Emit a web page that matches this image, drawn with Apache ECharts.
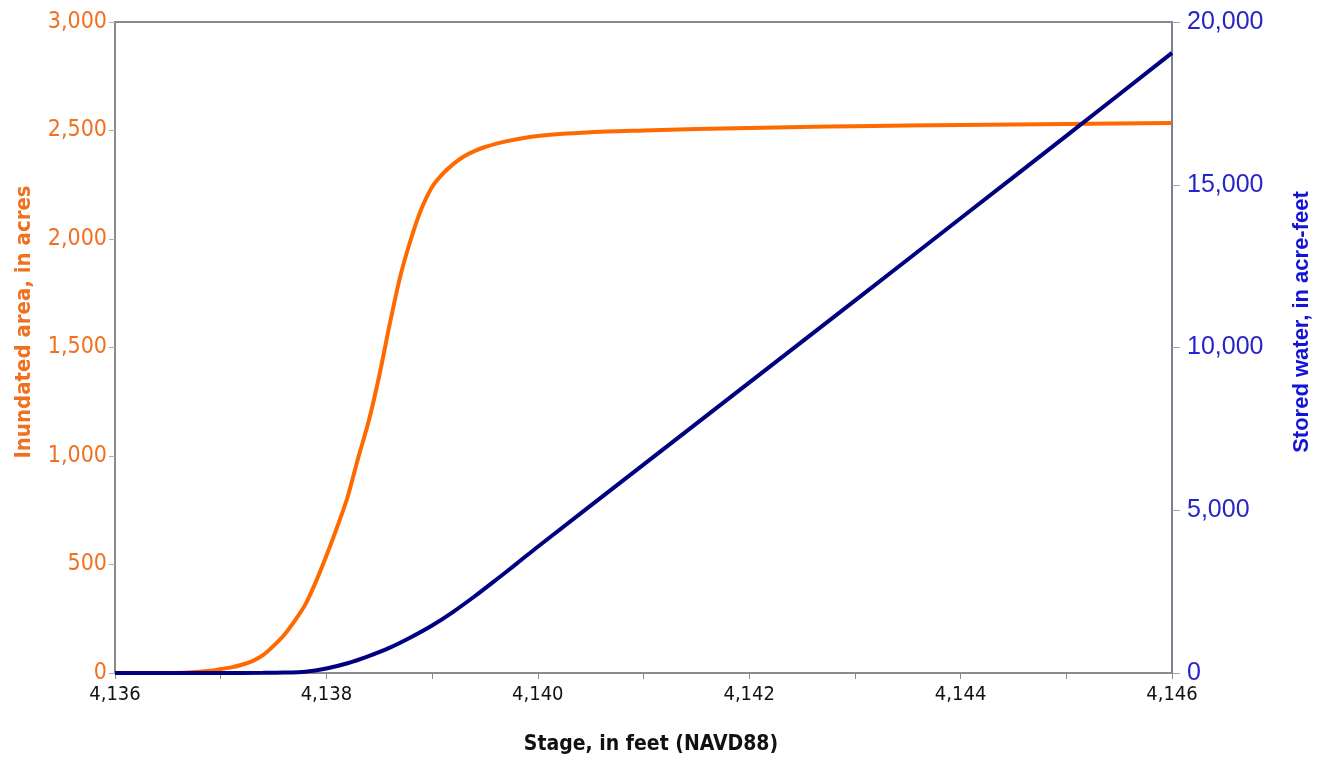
<!DOCTYPE html>
<html>
<head>
<meta charset="utf-8">
<script src="https://cdn.jsdelivr.net/npm/echarts@6/dist/echarts.min.js"></script>
<style>
  html, body { margin: 0; padding: 0; background: #fff; }
  #chart { width: 1325px; height: 759px; }
</style>
</head>
<body>
<div id="chart"></div>
<script>
// stage (feet, NAVD88) vs inundated area (acres)
const areaStage = [4136.0, 4136.5, 4136.7, 4136.9, 4137.0, 4137.1, 4137.2, 4137.3, 4137.4, 4137.5,
  4137.6, 4137.7, 4137.8, 4137.9, 4138.0, 4138.1, 4138.2, 4138.3, 4138.4, 4138.5,
  4138.6, 4138.7, 4138.8, 4138.9, 4139.0, 4139.1, 4139.2, 4139.3, 4139.4, 4139.5,
  4139.7, 4140.0, 4140.5, 4141.0, 4141.5, 4142.0, 4142.5, 4143.0, 4144.0, 4145.0, 4146.0];
const areaAcres = [0, 0, 2, 10, 18, 26, 38, 55, 82, 125,
  175, 240, 315, 420, 540, 670, 810, 990, 1160, 1370,
  1610, 1830, 2000, 2140, 2240, 2300, 2345, 2380, 2405, 2424,
  2450, 2475, 2492, 2500, 2507, 2512, 2516, 2520, 2525, 2530, 2535];

// stage vs stored water (acre-feet)
const storStage = [4136.0, 4137.0, 4137.4, 4137.6, 4137.8, 4138.0, 4138.2, 4138.4, 4138.6, 4138.8,
  4139.0, 4139.2, 4139.4, 4139.6, 4139.8, 4140.0, 4141.0, 4142.0, 4143.0, 4144.0, 4145.0, 4146.0];
const storAcreFt = [0, 0, 4, 12, 40, 140, 300, 520, 780, 1100,
  1460, 1880, 2350, 2850, 3360, 3880, 6400, 8920, 11440, 13970, 16500, 19050];

const xTicks = [4136, 4138, 4140, 4142, 4144, 4146];

const narrow = "'Liberation Sans Narrow', 'DejaVu Sans Condensed', sans-serif";
const arial = "'Liberation Sans', Arial, sans-serif";
const fmt = v => Number(v).toLocaleString('en-US');

const chart = echarts.init(document.getElementById('chart'), null, { renderer: 'canvas' });

const option = {
  backgroundColor: '#fff',
  animation: false,
  grid: {
    left: 115, right: 153, top: 22, bottom: 86,
    show: true, borderColor: '#8a8a8a', borderWidth: 2, backgroundColor: 'transparent'
  },
  xAxis: {
    type: 'value',
    min: 4136, max: 4146, interval: 1,
    axisLine: { lineStyle: { color: '#8a8a8a', width: 2 } },
    axisTick: { show: true, length: 6, lineStyle: { color: '#8a8a8a', width: 1 } },
    splitLine: { show: false },
    axisLabel: {
      color: '#111', fontFamily: narrow, fontSize: 20, margin: 12,
      formatter: v => xTicks.includes(v) ? fmt(v) : ''
    }
  },
  yAxis: [
    {
      type: 'value', min: 0, max: 3000, interval: 500, position: 'left',
      axisLine: { show: true, lineStyle: { color: '#8a8a8a', width: 2 } },
      axisTick: { show: true, length: 6, lineStyle: { color: '#b0b0b0' } },
      splitLine: { show: false },
      axisLabel: { color: '#f07020', fontFamily: narrow, fontSize: 23, margin: 8, formatter: fmt }
    },
    {
      type: 'value', min: 0, max: 20000, interval: 5000, position: 'right',
      axisLine: { show: true, lineStyle: { color: '#7c7c9c', width: 2 } },
      axisTick: { show: true, length: 8, lineStyle: { color: '#a0a0b8' } },
      splitLine: { show: false },
      axisLabel: { color: '#2626c8', fontFamily: arial, fontSize: 25, margin: 15, formatter: fmt }
    }
  ],
  graphic: [
    {
      type: 'text', x: 24, y: 322, rotation: Math.PI / 2,
      style: {
        text: 'Inundated area, in acres', fill: '#f07020', fontFamily: narrow,
        fontWeight: 'bold', fontSize: 22, align: 'center', verticalAlign: 'middle'
      }
    },
    {
      type: 'text', x: 1302, y: 322, rotation: Math.PI / 2,
      style: {
        text: 'Stored water, in acre-feet', fill: '#1414d8', fontFamily: arial,
        fontWeight: 'bold', fontSize: 22, align: 'center', verticalAlign: 'middle'
      }
    },
    {
      type: 'text', x: 651, y: 745,
      style: {
        text: 'Stage, in feet (NAVD88)', fill: '#111', fontFamily: narrow,
        fontWeight: 'bold', fontSize: 21, align: 'center', verticalAlign: 'middle'
      }
    }
  ],
  series: [
    {
      name: 'Inundated area',
      type: 'line',
      yAxisIndex: 0,
      data: areaStage.map((s, i) => [s, areaAcres[i]]),
      showSymbol: false,
      smooth: 0.25,
      lineStyle: { color: '#ff6a00', width: 4 },
      z: 3
    },
    {
      name: 'Stored water',
      type: 'line',
      yAxisIndex: 1,
      data: storStage.map((s, i) => [s, storAcreFt[i]]),
      showSymbol: false,
      smooth: 0.25,
      lineStyle: { color: '#000080', width: 4 },
      z: 4
    }
  ]
};

chart.setOption(option);
</script>
</body>
</html>
